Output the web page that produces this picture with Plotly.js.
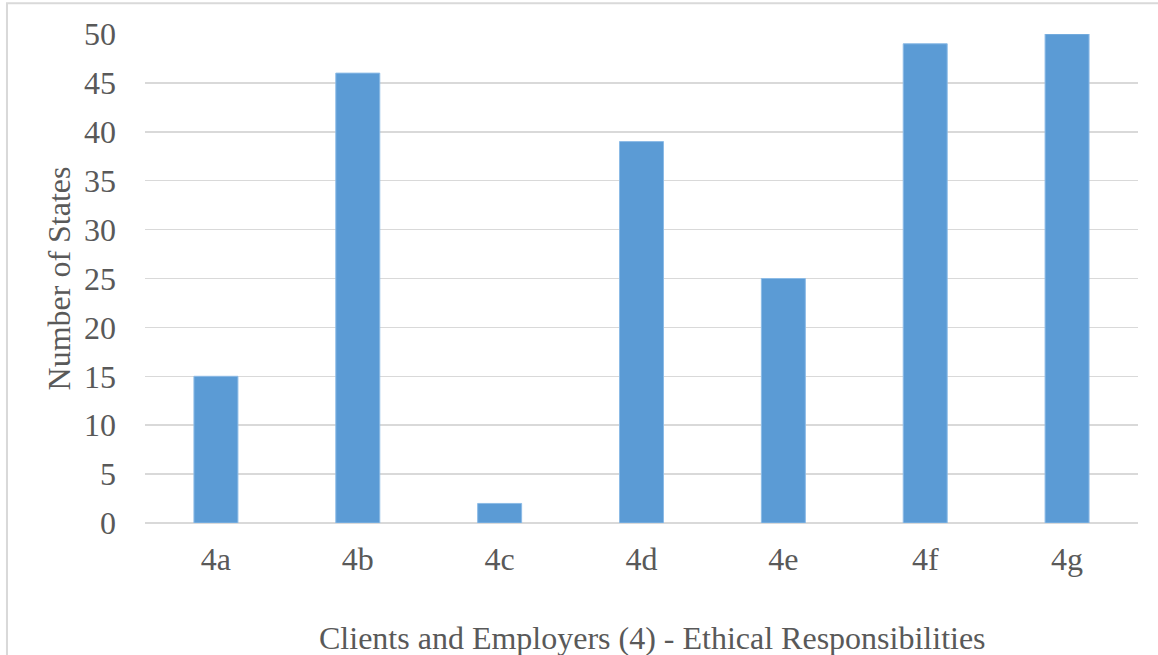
<!DOCTYPE html>
<html>
<head>
<meta charset="utf-8">
<script src="https://cdn.plot.ly/plotly-3.0.1.min.js"></script>
<style>
  html, body { margin: 0; padding: 0; background: #ffffff; }
  #chart { width: 1158px; height: 655px; }
</style>
</head>
<body>
<div id="chart"></div>
<script>
// Ethical responsibilities to clients and employers: count of states per rule
const categories = ['4a', '4b', '4c', '4d', '4e', '4f', '4g'];
const stateCounts = [15, 46, 2, 39, 25, 49, 50];
const yTicks = [0, 5, 10, 15, 20, 25, 30, 35, 40, 45, 50];
const xTitle = 'Clients and Employers (4) - Ethical Responsibilities';
const yTitle = 'Number of States';

const textColor = '#595959';
const gridColor = '#d9d9d9';
const serif = 'Liberation Serif, Times New Roman, serif';
const fontSize = 32;

const trace = {
  type: 'bar',
  x: categories,
  y: stateCounts,
  marker: {
    color: '#5b9bd5',
    line: { color: '#8cbbe6', width: 1 }
  },
  hoverinfo: 'x+y'
};

const layout = {
  width: 1158,
  height: 655,
  paper_bgcolor: '#ffffff',
  plot_bgcolor: '#ffffff',
  margin: { l: 145, r: 20, t: 34, b: 132 },
  bargap: 0.69,
  showlegend: false,
  font: { family: serif, color: textColor, size: fontSize },
  xaxis: {
    type: 'category',
    showgrid: false,
    showline: false,
    zeroline: false,
    ticks: '',
    ticklabelstandoff: 14,
    tickfont: { family: serif, size: fontSize, color: textColor },
    automargin: false
  },
  yaxis: {
    range: [0, 50],
    tickvals: yTicks,
    ticktext: yTicks.map(String),
    showgrid: true,
    gridcolor: gridColor,
    gridwidth: 1.5,
    zeroline: true,
    zerolinecolor: gridColor,
    zerolinewidth: 1.5,
    showline: false,
    ticks: '',
    ticklabelstandoff: 28,
    tickfont: { family: serif, size: fontSize, color: textColor },
    title: {
      text: yTitle,
      font: { family: serif, size: fontSize, color: textColor },
      standoff: 3
    },
    automargin: false
  },
  // category axis title, centred on the whole chart area
  annotations: [
    {
      text: xTitle,
      xref: 'paper', yref: 'paper',
      x: 0.5106, y: -0.235,
      xanchor: 'center', yanchor: 'middle',
      showarrow: false,
      font: { family: serif, size: fontSize, color: textColor }
    }
  ],
  shapes: [
    {
      type: 'rect',
      xref: 'paper', yref: 'paper',
      x0: -0.139, x1: 1.05,
      y0: -0.6, y1: 1.063,
      line: { color: gridColor, width: 2 },
      fillcolor: 'rgba(0,0,0,0)',
      layer: 'below'
    }
  ]
};

Plotly.newPlot('chart', [trace], layout, { displayModeBar: false, staticPlot: true });
</script>
</body>
</html>
